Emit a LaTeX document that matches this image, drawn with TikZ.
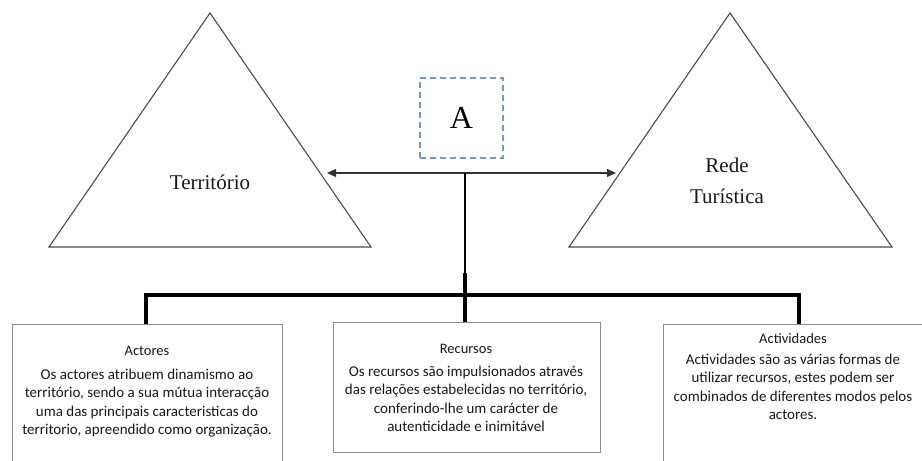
\documentclass[tikz,border=0pt]{standalone}
\usepackage{fontspec}
\setmainfont{Liberation Serif}
\newfontfamily\boxfont{Carlito}
\usetikzlibrary{arrows.meta}
\definecolor{dashblue}{RGB}{122,151,192}
\begin{document}
\begin{tikzpicture}[x=1pt,y=-1pt,
  tri/.style={draw=black!70, line width=1.1pt, fill=white, line join=miter},
  trilabel/.style={font=\fontsize{21}{31}\selectfont, text=black!90, align=center, inner sep=0},
  dashbox/.style={draw=dashblue, line width=1.8pt, dash pattern=on 6pt off 4pt,
    minimum width=83pt, minimum height=80pt, inner sep=0, font=\fontsize{32}{36}\selectfont},
  infobox/.style={draw=black!45, line width=1.4pt, fill=white, inner sep=0, anchor=north west},
  boxtitle/.style={font=\boxfont\fontsize{14.5}{18}\selectfont, text=black!90, anchor=base, inner sep=0},
  boxbody/.style={font=\boxfont\fontsize{15}{18.3}\selectfont, text=black!90, align=center, anchor=north, inner sep=0},
  bus/.style={line width=4pt, black, line join=miter},
  link/.style={line width=1.4pt, black!80, {Triangle[length=9pt,width=8pt]}-{Triangle[length=9pt,width=8pt]}},
]
\clip (0,0) rectangle (922,461);
\fill[white] (0,0) rectangle (922,461);

% the two triangles
\draw[tri] (210,13) -- (371,247) -- (49,247) -- cycle;
\node[trilabel] (territorio) at (210,182) {Território};
\draw[tri] (730,13) -- (892,247) -- (569,247) -- cycle;
\node[trilabel] (rede) at (727,181) {Rede\\Turística};

% dashed label box
\node[dashbox] (a) at (461.5,118) {A};

% double arrow between the triangles
\coordinate (tipL) at (327,173);
\coordinate (tipR) at (616,173);
\draw[link] (tipL) -- (tipR);

% description boxes
\node[infobox, minimum width=270pt, minimum height=160pt] (actores) at (12,324) {};
\node[infobox, minimum width=267pt, minimum height=130pt] (recursos) at (333,322) {};
\node[infobox, minimum width=280pt, minimum height=160pt] (actividades) at (663,324) {};

% stem and distribution bus
\coordinate (stemtop) at (465,173);
\coordinate (stembus) at (465,295);
\coordinate (stemthick) at (465,273);
\coordinate (busL) at (146,295);
\coordinate (busR) at (799,295);
\draw[line width=2.5pt, black] (stemtop) -- (stembus);
\draw[bus] (busL |- actores.north) -- (busL) -- (busR) -- (busR |- actividades.north);
\draw[bus] (stemthick) -- (stemthick |- recursos.north);

% box texts
\node[boxtitle] (t1) at (147,355) {Actores};
\node[boxbody] (b1) at (147,369) {Os actores atribuem dinamismo ao\\território, sendo a sua mútua interacção\\uma das principais caracteristicas do\\territorio, apreendido como organização.};
\node[boxtitle] (t2) at (466,353) {Recursos};
\node[boxbody] (b2) at (466,366) {Os recursos são impulsionados  através\\das relações estabelecidas no território,\\conferindo-lhe um carácter de\\autenticidade e inimitável};
\node[boxtitle] (t3) at (793,343) {Actividades};
\node[boxbody] (b3) at (793,354) {Actividades são as várias formas de\\utilizar recursos, estes podem ser\\combinados de diferentes modos pelos\\actores.};
\end{tikzpicture}
\end{document}
